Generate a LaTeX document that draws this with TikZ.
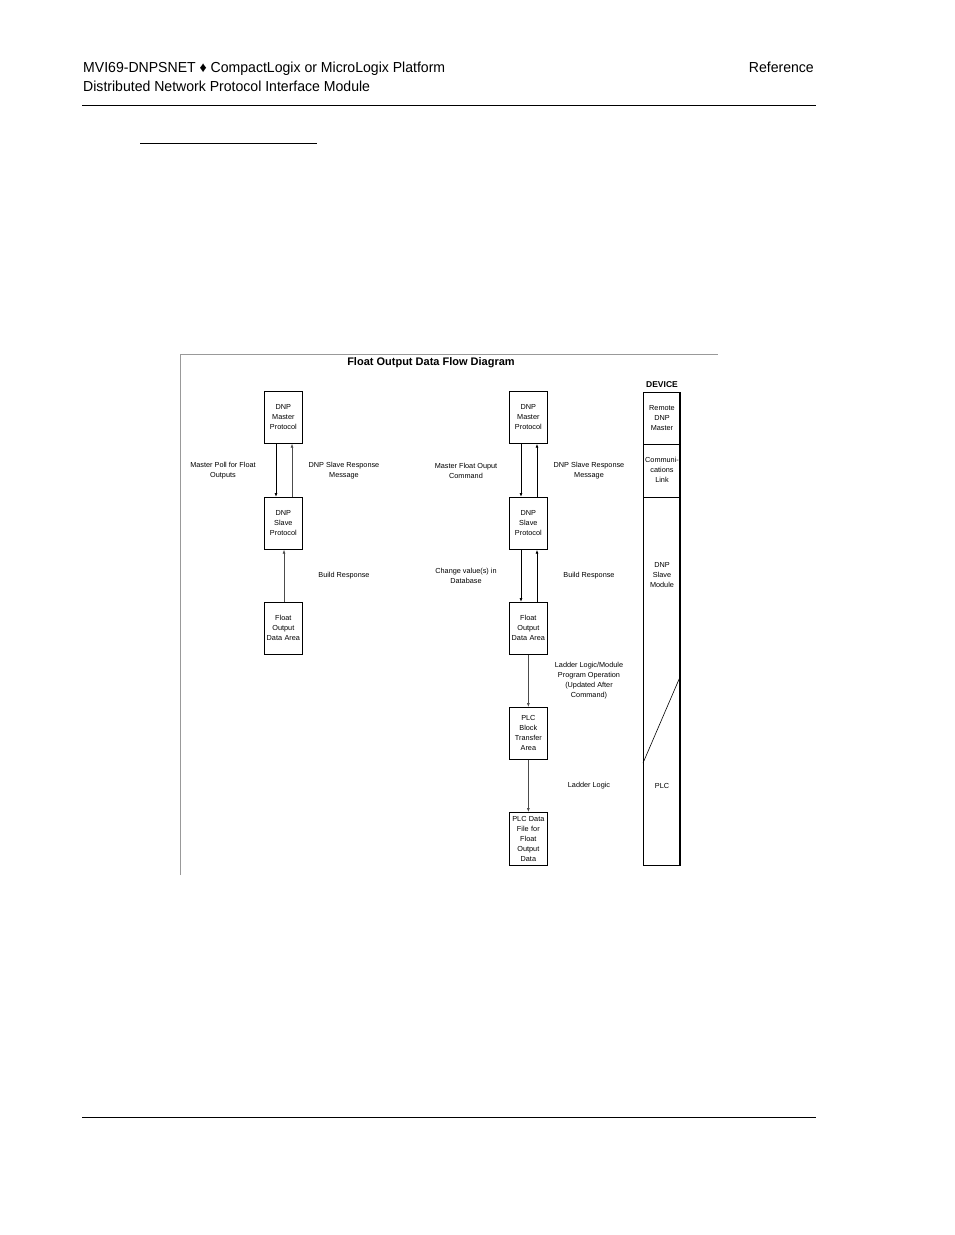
\documentclass[tikz,border=0pt]{standalone}
\usepackage{fontspec}
\setmainfont{Liberation Sans}
\newfontfamily\narrowf[FakeStretch=0.97]{Liberation Sans}
\usetikzlibrary{arrows.meta}
\begin{document}
\begin{tikzpicture}[x=1pt,y=-1pt,
  bx/.style={draw,line width=0.7pt,minimum width=38pt,minimum height=52pt,inner sep=0pt,align=center,font=\fontsize{7.3}{10}\selectfont,anchor=north west,text width=37pt},
  lbl/.style={align=center,font=\fontsize{7.3}{10}\selectfont},
  dn/.style={-{Latex[length=4pt,width=3pt]},line width=1pt},
  up/.style={-{Latex[length=4pt,width=3pt]},line width=0.6pt,draw=black!70}]
\useasboundingbox (0,0) rectangle (954,1235);
\node[anchor=base west,inner sep=0,font=\narrowf\fontsize{14.5}{17}\selectfont] (h1) at (83,72) {MVI69-DNPSNET ♦ CompactLogix or MicroLogix Platform};
\node[anchor=base west,inner sep=0,font=\narrowf\fontsize{14.5}{17}\selectfont] (h2) at (83,91) {Distributed Network Protocol Interface Module};
\node[anchor=base east,inner sep=0,font=\narrowf\fontsize{14.5}{17}\selectfont] (h3) at (814,72) {Reference};
\draw[line width=0.8pt] (82,105) -- (816,105);
\draw[line width=0.8pt] (82,1117) -- (816,1117);
\draw[line width=0.8pt] (140,143) -- (317,143);
\draw[black!40,line width=0.6pt] (180,875) -- (180,354) -- (718,354);
\node[font=\bfseries\fontsize{11}{12}\selectfont] (title) at (431,363) {Float Output Data Flow Diagram};
% left
\node[bx] (lm) at (264,391) {DNP\\Master\\Protocol};
\node[bx] (ls) at (264,497) {DNP\\Slave\\Protocol};
\node[bx] (lf) at (264,602) {Float\\Output\\Data Area};
\draw[dn] (lm.south -| 276,0) -- (ls.north -| 276,0);
\draw[up] (ls.north -| 292,0) -- (lm.south -| 292,0);
\draw[up] (lf.north -| 284,0) -- (ls.south -| 284,0);
\node[lbl] (l1) at (223,471) {Master Poll for Float\\Outputs};
\node[lbl] (l2) at (344,471) {DNP Slave Response\\Message};
\node[lbl] (l3) at (344,576) {Build Response};
% middle
\node[bx] (mm) at (509,391) {DNP\\Master\\Protocol};
\node[bx] (ms) at (509,497) {DNP\\Slave\\Protocol};
\node[bx] (mf) at (509,602) {Float\\Output\\Data Area};
\node[bx] (mb) at (509,707) {PLC\\Block\\Transfer\\Area};
\node[bx,minimum height=53pt] (md) at (509,812) {PLC Data\\File for\\Float\\Output\\Data};
\draw[dn] (mm.south -| 521,0) -- (ms.north -| 521,0);
\draw[dn] (ms.north -| 537,0) -- (mm.south -| 537,0);
\draw[dn] (ms.south -| 521,0) -- (mf.north -| 521,0);
\draw[dn] (mf.north -| 537,0) -- (ms.south -| 537,0);
\draw[up] (mf.south) -- (mb.north);
\draw[up] (mb.south) -- (md.north);
\node[lbl] (m1) at (466,471) {Master Float Ouput\\Command};
\node[lbl] (m2) at (589,471) {DNP Slave Response\\Message};
\node[lbl] (m3) at (466,576) {Change value(s) in\\Database};
\node[lbl] (m4) at (589,576) {Build Response};
\node[lbl] (m5) at (589,681) {Ladder Logic/Module\\Program Operation\\(Updated After\\Command)};
\node[lbl] (m6) at (589,786) {Ladder Logic};
% device
\node[font=\bfseries\fontsize{8.5}{10}\selectfont] (dev) at (662,385) {DEVICE};
\draw[line width=0.6pt] (643,392) rectangle (680,865);
\draw[line width=1.2pt] (680,392) -- (680,865);
\draw[line width=0.6pt] (643,444) -- (680,444) (643,497) -- (680,497);
\draw[line width=0.6pt] (643,763) -- (680,677);
\node[lbl] (d1) at (662,418) {Remote\\DNP\\Master};
\node[lbl] (d2) at (662,470) {Communi-\\cations\\Link};
\node[lbl] (d3) at (662,575) {DNP\\Slave\\Module};
\node[lbl] (d4) at (662,786) {PLC};
\end{tikzpicture}
\end{document}
